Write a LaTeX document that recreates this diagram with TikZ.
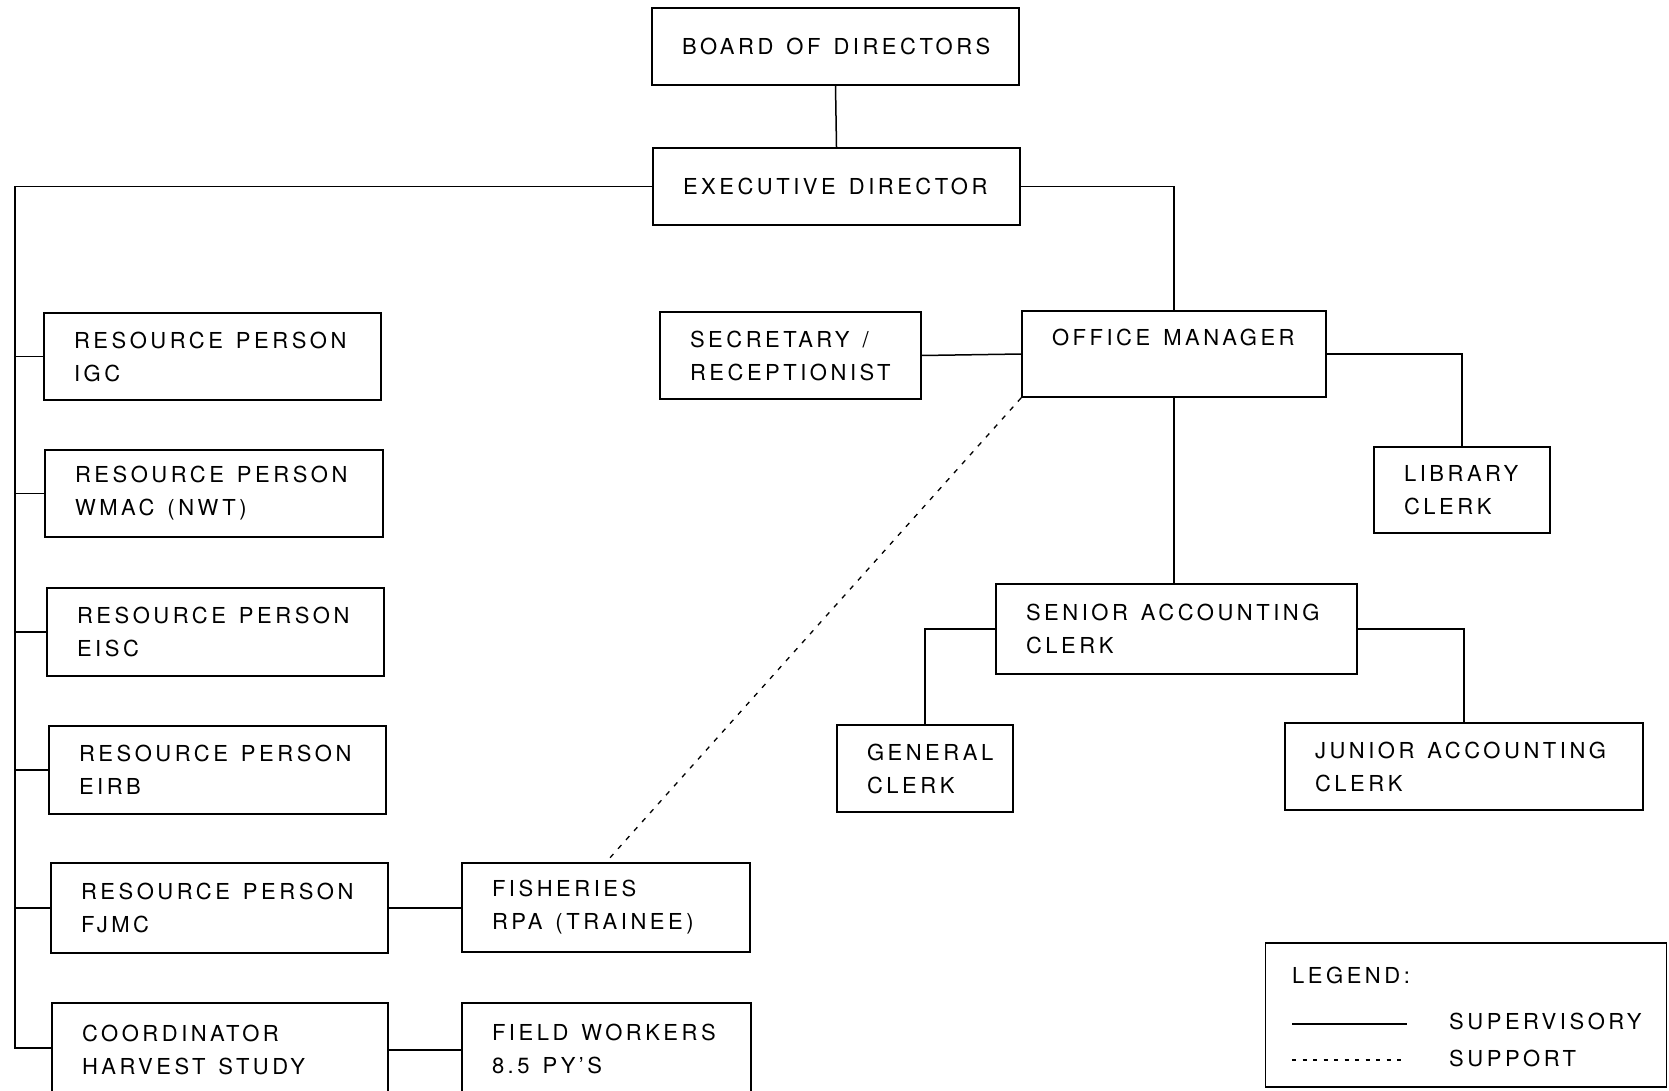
\documentclass[tikz,border=0pt]{standalone}
\usepackage{fontspec}
\setmainfont{TeX Gyre Heros}[LetterSpace=16]
\newcommand\chartfont{\fontsize{22}{33}\selectfont}
\newcommand\wsp{\kern13pt\relax}
\begin{document}
\begin{tikzpicture}[x=1pt,y=-1pt,
  box/.style={draw, line width=1.5pt, inner xsep=30pt, inner ysep=0pt, align=left,
              font=\chartfont},
  link/.style={line width=1.5pt},
  support/.style={line width=1.3pt, dash pattern=on 5pt off 7pt},
  legdash/.style={line width=1.2pt, dash pattern=on 4pt off 6.5pt},
  txt/.style={inner sep=0pt, anchor=west, font=\chartfont}]
\useasboundingbox (0,0) rectangle (1669,1091);

% top
\node[box, text width=307pt, minimum height=77pt] (board) at (835.5,46.5) {\mbox{BOARD\wsp OF\wsp DIRECTORS}};
\node[box, text width=307pt, minimum height=77pt] (exec) at (836.5,186.5) {\mbox{EXECUTIVE\wsp DIRECTOR}};

% left column
\node[box, text width=277pt, minimum height=87pt] (rp1) at (212.5,356.5) {\mbox{RESOURCE\wsp PERSON}\\IGC};
\node[box, text width=278pt, minimum height=87pt] (rp2) at (214,493.5) {\mbox{RESOURCE\wsp PERSON}\\\mbox{WMAC\wsp (NWT)}};
\node[box, text width=277pt, minimum height=88pt] (rp3) at (215.5,632) {\mbox{RESOURCE\wsp PERSON}\\EISC};
\node[box, text width=277pt, minimum height=88pt] (rp4) at (217.5,770) {\mbox{RESOURCE\wsp PERSON}\\EIRB};
\node[box, text width=277pt, minimum height=90pt] (rp5) at (219.5,908) {\mbox{RESOURCE\wsp PERSON}\\FJMC};
\node[box, text width=276pt, minimum height=94pt] (coord) at (220,1050) {COORDINATOR\\\mbox{HARVEST\wsp STUDY}};

\node[box, text width=228pt, minimum height=89pt] (fish) at (606,907.5) {FISHERIES\\\mbox{RPA\wsp (TRAINEE)}};
\node[box, text width=229pt, minimum height=92pt] (field) at (606.5,1049) {\mbox{FIELD\wsp WORKERS}\\\mbox{8.5\wsp PY'S}};

% right part
\node[box, text width=201pt, minimum height=87pt] (sec) at (790.5,355.5) {\mbox{SECRETARY\wsp /}\\RECEPTIONIST};
\node[box, text width=244pt, minimum height=86pt] (om) at (1174,354) {\mbox{OFFICE\wsp MANAGER}\\\mbox{}};
\node[box, text width=116pt, minimum height=86pt] (lib) at (1462,490) {LIBRARY\\CLERK};
\node[box, text width=301pt, minimum height=90pt] (senior) at (1176.5,629) {\mbox{SENIOR\wsp ACCOUNTING}\\CLERK};
\node[box, text width=116pt, minimum height=87pt] (gen) at (925,768.5) {GENERAL\\CLERK};
\node[box, text width=298pt, minimum height=87pt] (junior) at (1464,766.5) {\mbox{JUNIOR\wsp ACCOUNTING}\\CLERK};

% connectors
\coordinate (trunkbot) at (15,1048);
\draw[link] (board.south) -- (exec.north);
\draw[link] (exec.west) -| (trunkbot) -- (coord.west |- trunkbot);
\foreach \n in {rp1,rp2,rp3,rp4,rp5}
  \draw[link] (\n.west) -- (\n.west -| trunkbot);
\draw[link] (rp5.east) -- (rp5.east -| fish.west);
\draw[link] (coord.east) -- (coord.east -| field.west);
\draw[link] (exec.east) -| (om.north);
\draw[link] (sec.east) -- (om.west);
\draw[link] (om.east) -| (lib.north);
\draw[link] (om.south) -- (om.south |- senior.north);
\draw[link] (senior.west) -| (gen.north);
\draw[link] (senior.east) -| (junior.north);
\draw[support] (om.south west) -- (fish.north);

% legend
\node[draw, line width=1.5pt, minimum width=401pt, minimum height=144pt, inner sep=0pt] (legend) at (1466,1015) {};
\node[txt] (legtitle) at (1292,975) {LEGEND:};
\coordinate (sup1) at (1292,1024);
\coordinate (sup2) at (1407,1024);
\draw[link] (sup1) -- (sup2);
\node[txt] (suptxt) at (1449,1021) {SUPERVISORY};
\coordinate (spt1) at (1292,1060);
\coordinate (spt2) at (1405,1060);
\draw[legdash] (spt1) -- (spt2);
\node[txt] (spttxt) at (1449,1058) {SUPPORT};
\end{tikzpicture}
\end{document}
